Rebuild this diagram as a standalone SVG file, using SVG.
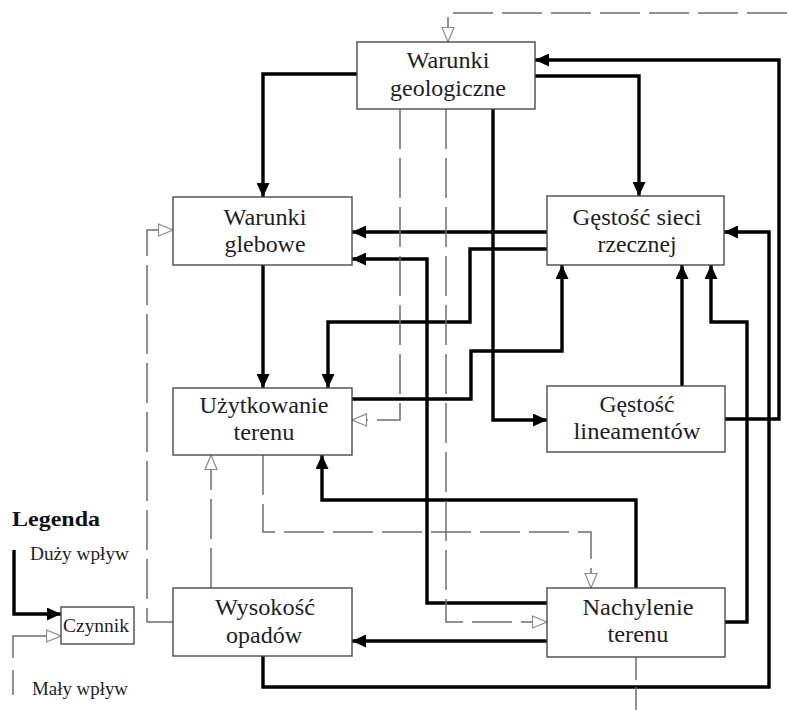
<svg xmlns="http://www.w3.org/2000/svg" width="787" height="710" viewBox="0 0 787 710">
  <style>
    .box { fill: #ffffff; stroke: #4a4a4a; stroke-width: 1.4; }
    .lbl { font-family: "Liberation Serif", "Times New Roman", serif; font-size: 23px; fill: #1e1e26; text-anchor: middle; }
    .leg { font-family: "Liberation Serif", "Times New Roman", serif; font-size: 19px; fill: #1e1e26; }
    .legt { font-family: "Liberation Serif", "Times New Roman", serif; font-size: 20px; font-weight: bold; fill: #111; }
    .strong { fill: none; stroke: #000; stroke-width: 3.4; stroke-linejoin: miter; marker-end: url(#headStrong); }
    .weak { fill: none; stroke: #6e6e6e; stroke-width: 1.5; stroke-dasharray: 40 9; marker-end: url(#headWeak); }
    .weakPlain { fill: none; stroke: #6e6e6e; stroke-width: 1.5; }
  </style>
  <defs>
    <marker id="headStrong" markerUnits="userSpaceOnUse" markerWidth="15" markerHeight="13" refX="14" refY="6.5" orient="auto">
      <path d="M0,0 L14,6.5 L0,13 z" fill="#000"/>
    </marker>
    <marker id="headWeak" markerUnits="userSpaceOnUse" markerWidth="17" markerHeight="14" refX="15.5" refY="7" orient="auto">
      <path d="M1,1 L15.5,7 L1,13 z" fill="#fff" stroke="#8a8a8a" stroke-width="1.2"/>
    </marker>
  </defs>

  <!-- connectors -->
  <g id="connectors">
    <!-- strong influence -->
    <path class="strong" d="M357,74 H263 V197"/>
    <path class="strong" d="M535,76 H639 V196"/>
    <path class="strong" d="M493,109 V420 H547"/>
    <path class="strong" d="M547,232 H352"/>
    <path class="strong" d="M547,249 H470 V322 H328 V388"/>
    <path class="strong" d="M263,265 V388"/>
    <path class="strong" d="M352,399 H471 V351 H562 V265"/>
    <path class="strong" d="M682,386 V265"/>
    <path class="strong" d="M725,419 H779 V60 H535"/>
    <path class="strong" d="M725,622 H747 V322 H711 V265"/>
    <path class="strong" d="M636,588 V500 H322 V455"/>
    <path class="strong" d="M547,603 H427 V259 H352"/>
    <path class="strong" d="M547,641 H352"/>
    <path class="strong" d="M263,656 V687 H769 V232 H724"/>
    <!-- weak influence -->
    <path class="weak" d="M787,13 H448 V42"/>
    <path class="weak" d="M400,109 V420 H352"/>
    <path class="weak" d="M446,109 V622 H547"/>
    <path class="weak" d="M263,455 V532 H591 V588"/>
    <path class="weak" d="M211,588 V455"/>
    <path class="weak" d="M173,622 H147 V230 H173"/>
    <path class="weakPlain" d="M636,657 V710" stroke-dasharray="23 7"/>
  </g>

  <!-- nodes -->
  <g id="warunki-geologiczne">
    <rect class="box" x="357" y="42" width="178" height="67"/>
    <text class="lbl" x="448" y="68" textLength="83" lengthAdjust="spacingAndGlyphs">Warunki</text>
    <text class="lbl" x="448" y="96" textLength="116" lengthAdjust="spacingAndGlyphs">geologiczne</text>
  </g>
  <g id="warunki-glebowe">
    <rect class="box" x="173" y="197" width="179" height="68"/>
    <text class="lbl" x="265" y="225" textLength="83" lengthAdjust="spacingAndGlyphs">Warunki</text>
    <text class="lbl" x="265" y="252" textLength="81" lengthAdjust="spacingAndGlyphs">glebowe</text>
  </g>
  <g id="gestosc-sieci-rzecznej">
    <rect class="box" x="547" y="196" width="177" height="69"/>
    <text class="lbl" x="637" y="225" textLength="129" lengthAdjust="spacingAndGlyphs">Gęstość sieci</text>
    <text class="lbl" x="637" y="252" textLength="79" lengthAdjust="spacingAndGlyphs">rzecznej</text>
  </g>
  <g id="uzytkowanie-terenu">
    <rect class="box" x="173" y="388" width="179" height="67"/>
    <text class="lbl" x="264" y="413" textLength="129" lengthAdjust="spacingAndGlyphs">Użytkowanie</text>
    <text class="lbl" x="264" y="440" textLength="61" lengthAdjust="spacingAndGlyphs">terenu</text>
  </g>
  <g id="gestosc-lineamentow">
    <rect class="box" x="547" y="386" width="178" height="66"/>
    <text class="lbl" x="637" y="412" textLength="75" lengthAdjust="spacingAndGlyphs">Gęstość</text>
    <text class="lbl" x="637" y="439" textLength="127" lengthAdjust="spacingAndGlyphs">lineamentów</text>
  </g>
  <g id="wysokosc-opadow">
    <rect class="box" x="173" y="588" width="179" height="68"/>
    <text class="lbl" x="265" y="615" textLength="100" lengthAdjust="spacingAndGlyphs">Wysokość</text>
    <text class="lbl" x="264" y="643" textLength="76" lengthAdjust="spacingAndGlyphs">opadów</text>
  </g>
  <g id="nachylenie-terenu">
    <rect class="box" x="547" y="588" width="178" height="69"/>
    <text class="lbl" x="638" y="615" textLength="111" lengthAdjust="spacingAndGlyphs">Nachylenie</text>
    <text class="lbl" x="638" y="642" textLength="61" lengthAdjust="spacingAndGlyphs">terenu</text>
  </g>

  <!-- legend -->
  <g id="legenda">
    <text class="legt" x="12" y="526" textLength="88" lengthAdjust="spacingAndGlyphs">Legenda</text>
    <text class="leg" x="30" y="560" textLength="99" lengthAdjust="spacingAndGlyphs">Duży wpływ</text>
    <path class="strong" d="M14,550 V614 H61"/>
    <path d="M13,695 V636 H61" fill="none" stroke="#6e6e6e" stroke-width="1.5" stroke-dasharray="25 12 200" marker-end="url(#headWeak)"/>
    <rect class="box" x="61" y="607" width="73" height="37"/>
    <text class="leg" x="63" y="632" textLength="66" lengthAdjust="spacingAndGlyphs">Czynnik</text>
    <text class="leg" x="32" y="695" textLength="96" lengthAdjust="spacingAndGlyphs">Mały wpływ</text>
  </g>
</svg>
